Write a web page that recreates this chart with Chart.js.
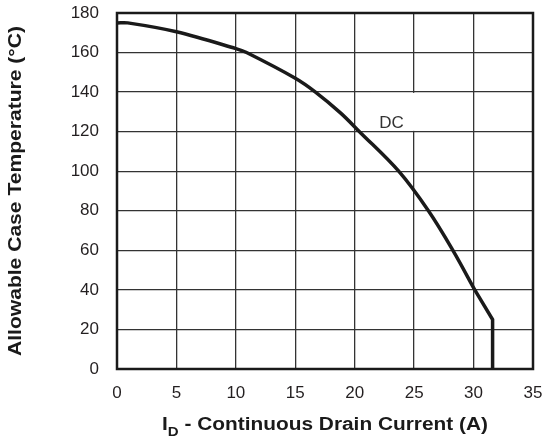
<!DOCTYPE html>
<html>
<head>
<meta charset="utf-8">
<script src="https://cdn.jsdelivr.net/npm/chart.js@4"></script>
<style>
  html, body { margin: 0; padding: 0; background: #fff; }
  #wrap { width: 543px; height: 446px; }
</style>
</head>
<body>
<div id="wrap"><canvas id="derating"></canvas></div>
<script>
// curve: drain current (A) vs allowable case temp (C)
const currentA = [0, 0.9, 5, 10, 10.9, 15, 16.7, 18.8, 20.4, 23.7, 26.2, 28.26, 30.1];
const caseTemp = [175, 175, 170.5, 162, 160, 147, 140, 129.5, 120, 100, 80, 60, 40];
// straight tail: last knee and the drop to zero
const tailCurrent = [30.1, 31.6, 31.6];
const tailTemp = [40, 25, 0];
const xTicks = [0, 5, 10, 15, 20, 25, 30, 35];
const yTicks = [0, 20, 40, 60, 80, 100, 120, 140, 160, 180];
const curveLabel = 'DC';

const FONT = "'Liberation Sans', Arial, sans-serif";

function toPoints(xs, ys) {
    return xs.map(function(x, i) { return {x: x, y: ys[i]}; });
}

// draws text squeezed/stretched to a given width
function fitText(ctx, text, x, y, width) {
    const w = ctx.measureText(text).width;
    ctx.save();
    ctx.translate(x, y);
    ctx.scale(width / w, 1);
    ctx.fillText(text, 0, 0);
    ctx.restore();
}

const frameAndTitles = {
    id: 'frameAndTitles',
    beforeDatasetsDraw(chart) {
        const ctx = chart.ctx;
        const xs = chart.scales.x, ys = chart.scales.y;
        // white patch behind the DC label
        const l = xs.getPixelForValue(21.35), r = xs.getPixelForValue(25.1);
        const t = ys.getPixelForValue(139.6), b = ys.getPixelForValue(120.4);
        ctx.save();
        ctx.fillStyle = '#fff';
        ctx.fillRect(l, t, r - l, b - t);
        ctx.fillStyle = '#333';
        ctx.font = '17px ' + FONT;
        ctx.textAlign = 'center';
        ctx.textBaseline = 'middle';
        ctx.fillText(curveLabel, xs.getPixelForValue(23.1), ys.getPixelForValue(124));
        ctx.restore();
    },
    afterDraw(chart) {
        const ctx = chart.ctx;
        const a = chart.chartArea;
        ctx.save();
        ctx.strokeStyle = '#1a1a1a';
        ctx.lineWidth = 2.5;
        ctx.strokeRect(a.left, a.top, a.right - a.left, a.bottom - a.top);

        ctx.fillStyle = '#1a1a1a';
        ctx.textBaseline = 'alphabetic';
        ctx.textAlign = 'left';
        // x title with subscript D, stretched to the reference width
        const main1 = 'I';
        const sub = 'D';
        const rest = ' - Continuous Drain Current (A)';
        ctx.font = 'bold 18px ' + FONT;
        const w1 = ctx.measureText(main1).width;
        const w2 = ctx.measureText(rest).width;
        ctx.font = 'bold 13px ' + FONT;
        const ws = ctx.measureText(sub).width;
        const total = w1 + ws + w2;
        const targetW = 326;
        const k = targetW / total;
        const x0 = (a.left + a.right) / 2 - targetW / 2;
        const by = 430;
        ctx.save();
        ctx.translate(x0, by);
        ctx.scale(k, 1);
        ctx.font = 'bold 18px ' + FONT;
        ctx.fillText(main1, 0, 0);
        ctx.font = 'bold 13px ' + FONT;
        ctx.fillText(sub, w1, 6);
        ctx.font = 'bold 18px ' + FONT;
        ctx.fillText(rest, w1 + ws, 0);
        ctx.restore();

        // y title
        ctx.translate(16, (a.top + a.bottom) / 2);
        ctx.rotate(-Math.PI / 2);
        ctx.font = 'bold 18px ' + FONT;
        ctx.textAlign = 'center';
        ctx.textBaseline = 'middle';
        fitText(ctx, 'Allowable Case Temperature (°C)', 0, 0, 330);
        ctx.restore();
    }
};

const lineStyle = {
    borderColor: '#1a1a1a',
    borderWidth: 3.5,
    pointRadius: 0,
    fill: false
};

const config = {
    type: 'line',
    data: {
        datasets: [
            Object.assign({ label: curveLabel, data: toPoints(currentA, caseTemp), tension: 0.35 }, lineStyle),
            Object.assign({ label: curveLabel + ' tail', data: toPoints(tailCurrent, tailTemp), tension: 0 }, lineStyle)
        ]
    },
    options: {
        responsive: false,
        animation: false,
        layout: { padding: { top: 13, right: 10, left: 0, bottom: 0 } },
        plugins: { legend: { display: false }, tooltip: { enabled: false } },
        scales: {
            x: {
                type: 'linear',
                min: 0, max: 35,
                afterBuildTicks: function(s) { s.ticks = xTicks.map(function(v) { return {value: v}; }); },
                afterFit: function(s) { s.height = 77; s.paddingLeft = 0; s.paddingRight = 0; },
                grid: { color: '#333', lineWidth: 1.3, drawTicks: false },
                border: { display: false },
                ticks: { color: '#231f20', font: { family: FONT, size: 17 }, padding: 14, maxRotation: 0 }
            },
            y: {
                type: 'linear',
                min: 0, max: 180,
                afterBuildTicks: function(s) { s.ticks = yTicks.map(function(v) { return {value: v}; }); },
                afterFit: function(s) { s.width = 117; s.paddingTop = 0; s.paddingBottom = 0; },
                grid: { color: '#333', lineWidth: 1.3, drawTicks: false },
                border: { display: false },
                ticks: { color: '#231f20', font: { family: FONT, size: 17 }, padding: 18 }
            }
        }
    },
    plugins: [frameAndTitles]
};

const canvas = document.getElementById('derating');
canvas.width = 543;
canvas.height = 446;
const deratingChart = new Chart(canvas, config);
</script>
</body>
</html>
